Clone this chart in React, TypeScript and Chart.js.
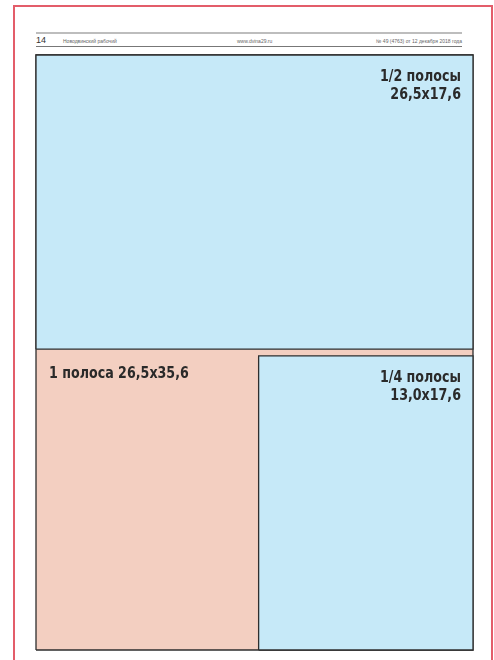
import React, { useEffect, useRef } from "react";
import { Chart, registerables } from "chart.js";

Chart.register(...registerables);

// Page layout in cm (width x height), origin bottom-left
const pageSize = [26.5, 35.6];
const rectNames = ["full", "half", "quarter"];
const rectX0 = [0, 0, 13.5];
const rectX1 = [26.5, 26.5, 26.5];
const rectY0 = [0, 18, 0];
const rectY1 = [35.6, 35.6, 17.6];
const rectColors = ["#f3cfc1", "#c6e9f8", "#c6e9f8"];
const labelLines = [["1 полоса 26,5x35,6"], ["1/2 полосы", "26,5x17,6"], ["1/4 полосы", "13,0x17,6"]];

const headerPage = "14";
const headerTitle = "Новодвинский рабочий";
const headerSite = "www.dvina29.ru";
const headerIssue = "№ 49 (4763) от 12 декабря 2018 года";

const FONT = "'DejaVu Sans Condensed', 'DejaVu Sans', sans-serif";
const SX = 0.88;

const labelPlugin = {
  id: "rectLabels",
  afterDatasetsDraw(chart: any) {
    const { ctx, scales } = chart;
    const xs = scales.x, ys = scales.y;
    ctx.save();
    ctx.fillStyle = "#2a2a2a";
    ctx.font = `bold 16px ${FONT}`;
    ctx.textBaseline = "alphabetic";
    const draw = (t: string, x: number, y: number, align: string) => {
      ctx.save();
      ctx.translate(x, y);
      ctx.scale(SX, 1);
      ctx.textAlign = align;
      ctx.fillText(t, 0, 0);
      ctx.restore();
    };
    {
      const x = xs.getPixelForValue(rectX0[0]) + 13;
      const y = ys.getPixelForValue(rectY0[1]) + 29;
      labelLines[0].forEach((t: string, i: number) => draw(t, x, y + i * 18, "left"));
    }
    [1, 2].forEach((k) => {
      const x = xs.getPixelForValue(rectX1[k]) - 12;
      const y = ys.getPixelForValue(rectY1[k]) + 26;
      labelLines[k].forEach((t: string, i: number) => draw(t, x, y + i * 18, "right"));
    });
    ctx.restore();
  },
};

export default function App() {
  const ref = useRef<HTMLCanvasElement>(null);
  useEffect(() => {
    if (!ref.current) return;
    const datasets = rectNames.map((name, i) => ({
      label: name,
      data: [
        { x: rectX0[i], y: rectY0[i] },
        { x: rectX1[i], y: rectY0[i] },
        { x: rectX1[i], y: rectY1[i] },
        { x: rectX0[i], y: rectY1[i] },
        { x: rectX0[i], y: rectY0[i] },
      ],
      showLine: true,
      fill: "shape",
      backgroundColor: rectColors[i],
      borderColor: "#2e2e2e",
      borderWidth: 1.3,
      pointRadius: 0,
      tension: 0,
      clip: false,
      order: 10 - i,
    }));
    const chart = new Chart(ref.current, {
      type: "scatter",
      data: { datasets } as any,
      options: {
        animation: false,
        responsive: false,
        devicePixelRatio: 1,
        layout: { padding: { left: 36, top: 55, right: 21, bottom: 10 } },
        plugins: { legend: { display: false }, tooltip: { enabled: false }, title: { display: false } },
        scales: {
          x: { type: "linear", min: 0, max: pageSize[0], display: false },
          y: { type: "linear", min: 0, max: pageSize[1], display: false },
        },
      } as any,
      plugins: [labelPlugin],
    });
    return () => chart.destroy();
  }, []);

  const small: React.CSSProperties = {
    position: "absolute",
    top: 36,
    fontFamily: "'Liberation Sans', Arial, sans-serif",
    fontSize: 5,
    color: "#666",
    whiteSpace: "nowrap",
    lineHeight: "6px",
  };

  return (
    <div style={{ position: "absolute", left: 0, top: 0, width: 494, height: 660, overflow: "hidden", background: "#fff" }}>
      <div style={{ position: "absolute", left: 13, top: 5, width: 480, height: 720, border: "2px solid #e35d6a", boxSizing: "border-box" }} />
      <div style={{ position: "absolute", left: 36, top: 32, width: 426, height: 2, background: "#bdbdbd" }} />
      <div style={{ position: "absolute", left: 36, top: 46, width: 426, height: 1, background: "#777" }} />
      <div style={{ ...small, left: 36, top: 35, fontSize: 9, lineHeight: "10px", color: "#333" }}>{headerPage}</div>
      <div style={{ ...small, left: 63, top: 38 }}>{headerTitle}</div>
      <div style={{ ...small, left: 237, top: 38 }}>{headerSite}</div>
      <div style={{ ...small, right: 494 - 462, top: 38 }}>{headerIssue}</div>
      <canvas ref={ref} width={494} height={660} style={{ position: "absolute", left: 0, top: 0, width: 494, height: 660 }} />
    </div>
  );
}
